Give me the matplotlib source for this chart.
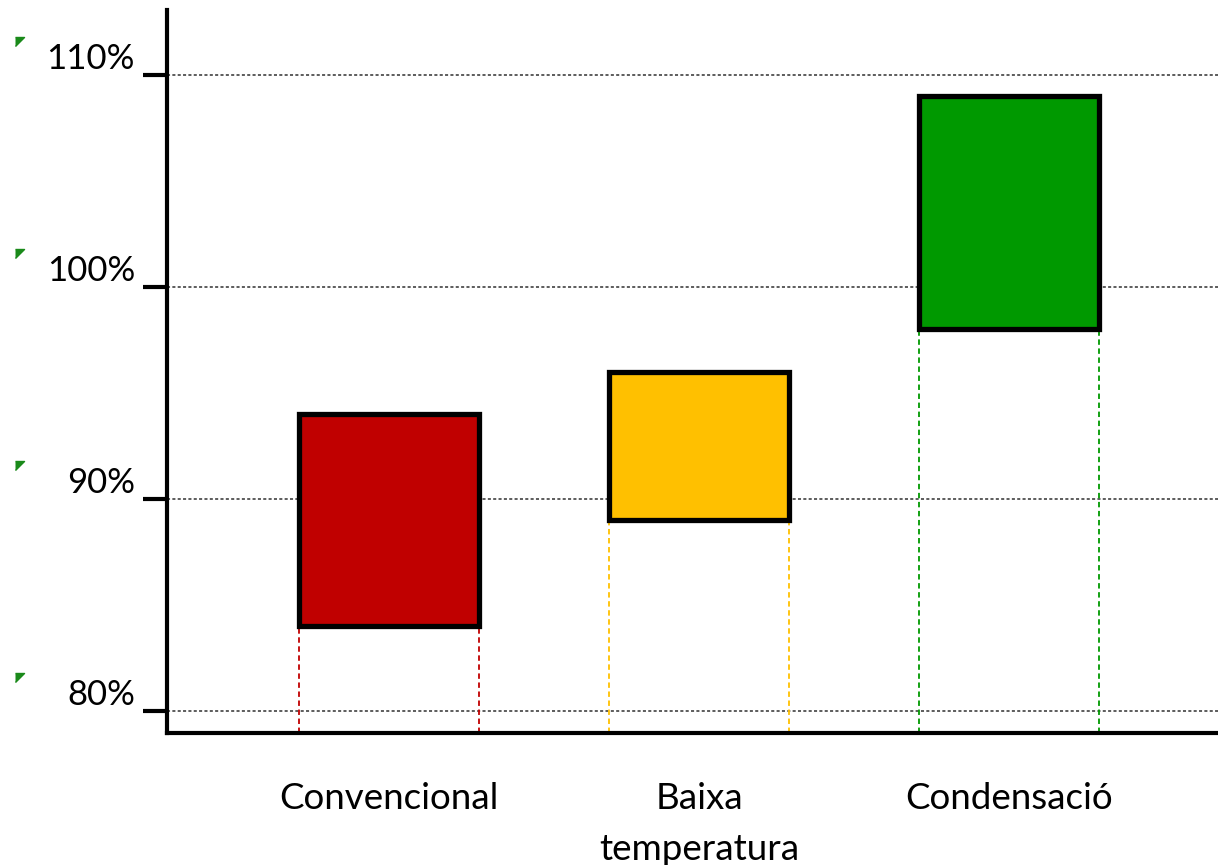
import matplotlib
matplotlib.use("Agg")
import matplotlib.pyplot as plt
from matplotlib.ticker import FuncFormatter
import matplotlib.transforms as mtransforms

categories = ["Convencional", "Baixa\ntemperatura", "Condensació"]
low = [84, 89, 98]
high = [94, 96, 109]
colors = ["#C00000", "#FFC000", "#009900"]
yticks = [80, 90, 100, 110]

plt.rcParams['font.family'] = ['Lato', 'DejaVu Sans']

fig = plt.figure(figsize=(12.18, 8.65), dpi=100)
ax = fig.add_axes([167/1218, 1-733/865, 1-167/1218, (733-10)/865])

ymin = 80 - 22/21.2
ymax = 80 + 701/21.2
ax.set_ylim(ymin, ymax)
ax.set_xlim(-0.716, 2.674)

x = list(range(len(categories)))
width = 180/310
for xi, lo, hi, c in zip(x, low, high, colors):
    ax.bar(xi, hi - lo, bottom=lo, width=width, color=c, edgecolor='black',
           linewidth=3.8, zorder=3)
    for dx in (-width/2, width/2):
        ax.plot([xi + dx, xi + dx], [ymin, lo], color=c, lw=1.3,
                ls=(0, (3, 2)), zorder=2)

ax.set_yticks(yticks)
ax.yaxis.set_major_formatter(FuncFormatter(lambda v, p: f"{v:.0f}%"))
for yv in yticks:
    ax.axhline(yv, color='#303030', lw=1.1, ls=(0, (2, 1.5)), zorder=1)

ax.tick_params(axis='y', length=17.3, width=3, color='black', labelsize=25,
               pad=5.8)
for lab in ax.get_yticklabels():
    lab.set_verticalalignment('bottom')
ax.set_xticks(x)
ax.set_xticklabels(categories, fontsize=26.5, linespacing=1.68)
ax.tick_params(axis='x', length=0, pad=35)
for lab in ax.get_xticklabels():
    lab.set_horizontalalignment('center')

for s in ['top', 'right']:
    ax.spines[s].set_visible(False)
for s in ['left', 'bottom']:
    ax.spines[s].set_linewidth(3)
    ax.spines[s].set_color('black')

# small green indicator triangles
trans = mtransforms.blended_transform_factory(fig.transFigure, ax.transData)
for yv in yticks:
    ax.plot([0.0125], [yv + 1.8], marker=[(0, 0), (1, 0), (0, -1)],
            markersize=13, color='#1a8a1a', transform=trans, clip_on=False)

fig.savefig("out.png", dpi=100)
